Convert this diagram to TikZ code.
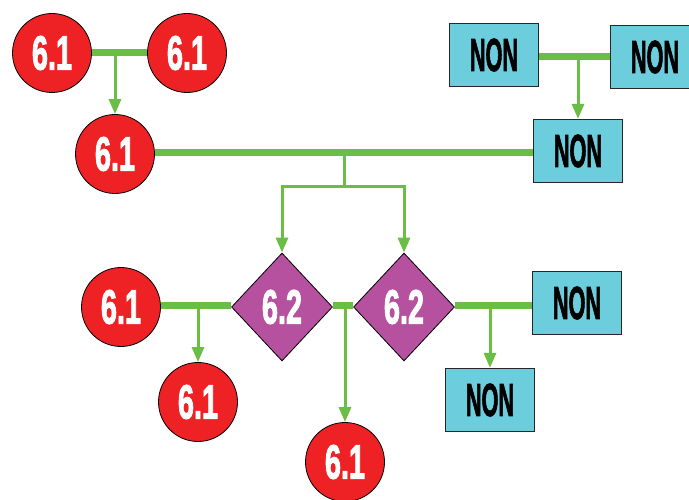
\documentclass[tikz,border=0pt]{standalone}
\usepackage{fontspec}
\setmainfont{Liberation Sans}
\newfontfamily\heavyfont{Liberation Sans}[BoldFeatures={FakeBold=2.5}]
\usetikzlibrary{arrows.meta,shapes.geometric,backgrounds,calc}
\definecolor{cred}{HTML}{EE2224}
\definecolor{cpurple}{HTML}{B5519E}
\definecolor{ccyan}{HTML}{6CCDDD}
\definecolor{cgreen}{HTML}{6ABD45}
\newcommand{\lblsix}[1]{\fontsize{48}{48}\heavyfont\bfseries\scalebox{0.6}[1]{#1}}
\newcommand{\lblnon}[1]{\fontsize{46}{46}\heavyfont\bfseries\scalebox{0.47}[1]{#1}}
\begin{document}
\begin{tikzpicture}[x=1pt,y=-1pt,
  redc/.style={circle,draw=black,line width=0.8pt,fill=cred,minimum size=79pt,inner sep=0pt,text=white},
  purd/.style={diamond,draw=black,line width=0.8pt,fill=cpurple,minimum width=101pt,minimum height=108pt,inner sep=0pt,text=white},
  cbox/.style={rectangle,draw=black!85,line width=1.2pt,fill=ccyan,minimum width=89pt,minimum height=63pt,inner sep=0pt,text=black},
  thickg/.style={draw=cgreen,line width=7pt},
  thing/.style={draw=cgreen,line width=3pt,-{Triangle[width=12pt,length=15pt]}},
  thinl/.style={draw=cgreen,line width=3pt}]
\useasboundingbox (0,0) rectangle (689,500);
% circles
\node[redc] (C1) at (52,53) {\lblsix{6.1}};
\node[redc] (C2) at (187,53) {\lblsix{6.1}};
\node[redc] (C3) at (115,154) {\lblsix{6.1}};
\node[redc] (C4) at (121,307) {\lblsix{6.1}};
\node[redc] (C5) at (198,402) {\lblsix{6.1}};
\node[redc] (C6) at (345,462) {\lblsix{6.1}};
% diamonds
\node[purd] (D1) at (282,307) {\lblsix{6.2}};
\node[purd] (D2) at (404,307) {\lblsix{6.2}};
% boxes
\node[cbox] (N1) at (494,55) {\lblnon{NON}};
\node[cbox] (N2) at (655,57) {\lblnon{NON}};
\node[cbox] (N3) at (578,151) {\lblnon{NON}};
\node[cbox] (N4) at (577,303) {\lblnon{NON}};
\node[cbox] (N5) at (490,400) {\lblnon{NON}};
\begin{scope}[on background layer]
\draw[thickg] (C1) -- (C2);
\draw[thickg] (N1.east |- 0,57) -- (N2.west |- 0,57);
\draw[thickg] (C3.east |- 0,153) -- (N3.west |- 0,153);
\draw[thickg] (C4.east |- 0,305) -- (D1.west |- 0,305);
\draw[thickg] (D1.east |- 0,305) -- (D2.west |- 0,305);
\draw[thickg] (D2.east |- 0,305) -- (N4.west |- 0,305);
\end{scope}
\coordinate (s1) at (344,153);
\coordinate (j1) at (344,187);
\draw[thing] (C3.north |- C1) -- (C3.north);
\draw[thing] (N3.north |- 0,57) -- (N3.north);
\draw[thinl] (s1) -- (j1);
\draw[thing] (j1) -| (D1.north);
\draw[thing] (j1) -| (D2.north);
\draw[thing] (C5.north |- 0,305) -- (C5.north);
\draw[thing] (C6.north |- 0,305) -- (C6.north);
\draw[thing] (N5.north |- 0,305) -- (N5.north);
\end{tikzpicture}
\end{document}
